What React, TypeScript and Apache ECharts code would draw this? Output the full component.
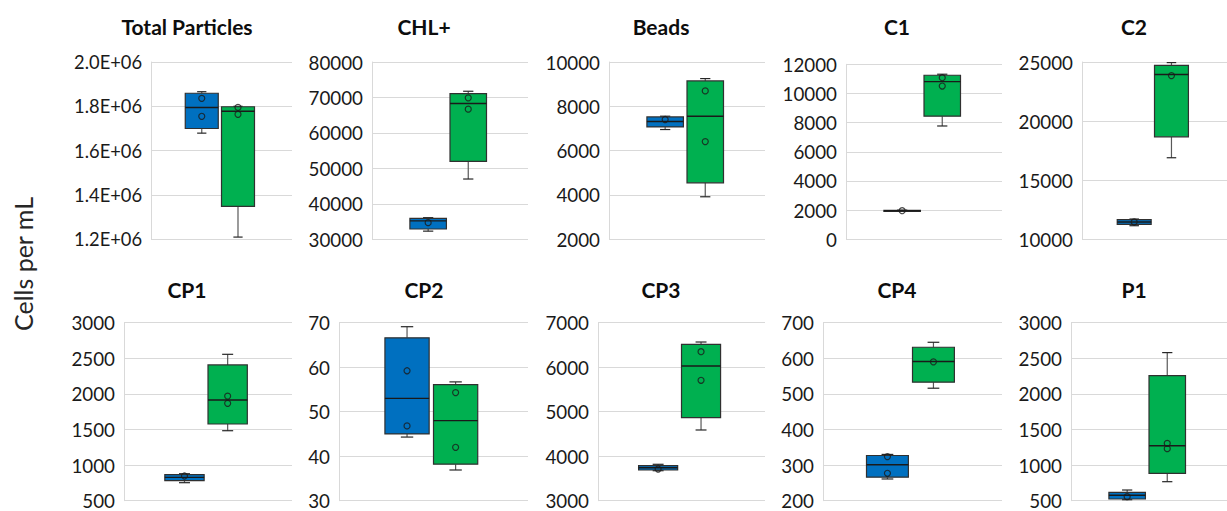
import React, { useEffect, useRef } from "react";
import * as echarts from "echarts";

// ---------- data ----------
const panelTitles = ["Total Particles", "CHL+", "Beads", "C1", "C2", "CP1", "CP2", "CP3", "CP4", "P1"];

// [min, q1, median, q3, max]
const blueStats = [
  [1679000, 1700000, 1795000, 1859000, 1866000],
  [32300, 32900, 35200, 35900, 36100],
  [6953, 7072, 7315, 7523, 7554],
  [1930, 1950, 1960, 1980, 2000],
  [11150, 11270, 11465, 11660, 11715],
  [753, 781, 828, 865, 879],
  [44.3, 45.0, 53.0, 66.6, 69.1],
  [3674, 3690, 3742, 3787, 3818],
  [261, 266, 301, 327, 330],
  [514, 524, 576, 618, 650],
];
const greenStats = [
  [1210000, 1349000, 1778000, 1798000, 1800000],
  [47000, 52000, 68300, 71100, 71750],
  [3919, 4550, 7554, 9144, 9252],
  [7770, 8440, 10810, 11250, 11320],
  [16900, 18670, 23940, 24720, 24950],
  [1483, 1577, 1914, 2407, 2556],
  [36.9, 38.2, 48.0, 56.1, 56.7],
  [4589, 4865, 6027, 6514, 6566],
  [516, 533, 591, 631, 645],
  [767, 885, 1272, 2257, 2580],
];
const bluePoints = [
  [1836000, 1755000],
  [34700],
  [7405],
  [1960],
  [11465],
  [847],
  [59.2, 46.8],
  [3712],
  [324, 277],
  [556],
];
const greenPoints = [
  [1795000, 1764000],
  [69900, 66700],
  [8694, 6410],
  [11080, 10510],
  [23850],
  [1969, 1867],
  [54.3, 42.0],
  [6348, 5706],
  [590],
  [1306, 1231],
];
const yMins = [1200000, 30000, 2000, 0, 10000, 500, 30, 3000, 200, 500];
const yMaxs = [2000000, 80000, 10000, 12000, 25000, 3000, 70, 7000, 700, 3000];
const yIntervals = [200000, 10000, 2000, 2000, 5000, 500, 10, 1000, 100, 500];
const yAxisTitle = "Cells per mL";

// ---------- layout / style ----------
const BLUE = "#0070C0";
const GREEN = "#00B050";
const BOX_X = [0.36, 0.617];
const BOX_W = 0.234;
const gridLeft = [151, 372, 609, 846, 1082, 124, 339, 598, 823, 1071];
const gridWidth = [141, 156, 156, 156, 157, 168, 189, 167, 179, 168];
const gridTop = [62, 62, 62, 64.3, 62, 322.7, 322.7, 322.7, 322.7, 322.7];
const gridHeight = [177.3, 177.3, 177.3, 175, 177.3, 178, 178, 178, 178, 178];
const titleCenters = [182, 419, 656, 892, 1129];
const FONT = "Lato, 'Open Sans', sans-serif";

function sciFormat(v: number) {
  const e = Math.floor(Math.log10(Math.abs(v)));
  const m = v / Math.pow(10, e);
  return m.toFixed(1) + "E+" + String(e).padStart(2, "0");
}

export default function App() {
  const ref = useRef<HTMLDivElement>(null);
  useEffect(() => {
    if (!ref.current) return;
    const chart = echarts.init(ref.current, undefined, { renderer: "svg" });
    const grids: any[] = [];
    const xAxes: any[] = [];
    const yAxes: any[] = [];
    const series: any[] = [];
    const titles: any[] = [];
    for (let i = 0; i < 10; i++) {
      grids.push({ left: gridLeft[i], top: gridTop[i], width: gridWidth[i], height: gridHeight[i] });
      xAxes.push({ type: "value", gridIndex: i, min: 0, max: 1, show: false });
      yAxes.push({
        type: "value",
        gridIndex: i,
        min: yMins[i],
        max: yMaxs[i],
        interval: yIntervals[i],
        axisLine: { show: true, lineStyle: { color: "#D9D9D9", width: 1 } },
        axisTick: { show: false },
        splitLine: { show: true, lineStyle: { color: "#D9D9D9", width: 1 } },
        axisLabel: {
          fontFamily: FONT,
          fontSize: i === 0 ? 18.3 : 18.8,
          color: "#1a1a1a",
          margin: 9,
          formatter: i === 0 ? (v: number) => sciFormat(v) : (v: number) => String(v),
        },
      });
      const row = i < 5 ? 0 : 1;
      titles.push({
        text: panelTitles[i],
        left: titleCenters[i % 5],
        top: row === 0 ? 11 : 274,
        textAlign: "center",
        textStyle: { fontFamily: FONT, fontSize: 21, fontWeight: "bold", color: "#0d0d0d" },
      });
      const boxData = [
        [BOX_X[0], ...blueStats[i], 0],
        [BOX_X[1], ...greenStats[i], 1],
      ];
      series.push({
        type: "custom",
        xAxisIndex: i,
        yAxisIndex: i,
        encode: { x: 0, y: [1, 2, 3, 4, 5] },
        data: boxData,
        renderItem: (params: any, api: any) => {
          const x = api.value(0);
          const pMin = api.coord([x, api.value(1)]);
          const pQ1 = api.coord([x, api.value(2)]);
          const pMed = api.coord([x, api.value(3)]);
          const pQ3 = api.coord([x, api.value(4)]);
          const pMax = api.coord([x, api.value(5)]);
          const fill = api.value(6) === 0 ? BLUE : GREEN;
          const w = api.size([BOX_W, 0])[0];
          const cx = pMin[0];
          const cap = w * 0.28;
          const whisker = { stroke: "#595959", lineWidth: 1.2 };
          return {
            type: "group",
            children: [
              { type: "line", shape: { x1: cx, y1: pMax[1], x2: cx, y2: pQ3[1] }, style: whisker },
              { type: "line", shape: { x1: cx, y1: pQ1[1], x2: cx, y2: pMin[1] }, style: whisker },
              { type: "line", shape: { x1: cx - cap / 2, y1: pMax[1], x2: cx + cap / 2, y2: pMax[1] }, style: { stroke: "#262626", lineWidth: 1.2 } },
              { type: "line", shape: { x1: cx - cap / 2, y1: pMin[1], x2: cx + cap / 2, y2: pMin[1] }, style: { stroke: "#262626", lineWidth: 1.2 } },
              {
                type: "rect",
                shape: { x: cx - w / 2, y: pQ3[1], width: w, height: Math.max(pQ1[1] - pQ3[1], 1) },
                style: { fill, stroke: "#303030", lineWidth: 1.2 },
              },
              { type: "line", shape: { x1: cx - w / 2, y1: pMed[1], x2: cx + w / 2, y2: pMed[1] }, style: { stroke: "#1a1a1a", lineWidth: 1.4 } },
            ],
          };
        },
        z: 2,
      });
      const pts: number[][] = [];
      bluePoints[i].forEach((v) => pts.push([BOX_X[0], v]));
      greenPoints[i].forEach((v) => pts.push([BOX_X[1], v]));
      series.push({
        type: "scatter",
        xAxisIndex: i,
        yAxisIndex: i,
        data: pts,
        symbol: "circle",
        symbolSize: 6,
        itemStyle: { color: "rgba(0,0,0,0)", borderColor: "#1a1a1a", borderWidth: 1.2 },
        z: 3,
      });
    }
    chart.setOption({
      animation: false,
      backgroundColor: "#ffffff",
      title: titles,
      grid: grids,
      xAxis: xAxes,
      yAxis: yAxes,
      series,
      graphic: [
        {
          type: "text",
          x: 22.5,
          y: 264,
          rotation: Math.PI / 2,
          style: {
            text: yAxisTitle,
            fontFamily: FONT,
            fontSize: 25,
            fill: "#262626",
            textAlign: "center",
            textVerticalAlign: "middle",
          },
        },
      ],
    });
    return () => chart.dispose();
  }, []);
  return <div ref={ref} style={{ position: "fixed", left: 0, top: 0, width: 1227, height: 511 }} />;
}
